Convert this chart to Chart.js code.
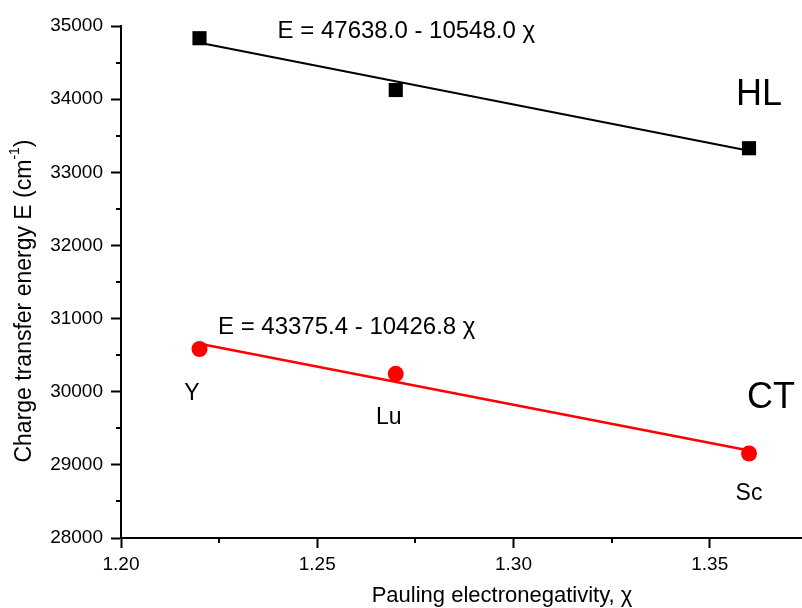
<!DOCTYPE html>
<html lang="en">
<head>
  <meta charset="UTF-8" />
  <title>Charge transfer energy vs electronegativity</title>
  <script src="https://cdn.jsdelivr.net/npm/chart.js"></script>
  <style>
    html, body { margin: 0; padding: 0; background: #fff; overflow: hidden; }
    .chart-container { position: relative; width: 802px; height: 608px; }
    canvas { display: block; }
  </style>
</head>
<body>
  <div class="chart-container">
    <canvas id="chart"></canvas>
  </div>

  <script>
    // data
    const elements = ['Y', 'Lu', 'Sc'];
    const chi = [1.22, 1.27, 1.36];
    const hlEnergy = [34833, 34125, 33329];
    const ctEnergy = [30584, 30245, 29155];

    // fitted lines (end points)
    const fitChi = [1.22, 1.36];
    const hlFit = [34770, 33293];
    const ctFit = [30655, 29195];

    const xTicks = [1.20, 1.25, 1.30, 1.35];
    const xMinorTicks = [1.225, 1.275, 1.325];
    const yTicks = [28000, 29000, 30000, 31000, 32000, 33000, 34000, 35000];
    const yMinorTicks = [28500, 29500, 30500, 31500, 32500, 33500, 34500];

    const hlEquation = 'E = 47638.0 - 10548.0 \u03c7';
    const ctEquation = 'E = 43375.4 - 10426.8 \u03c7';

    const FONT = '"Liberation Sans", Arial, sans-serif';

    const toPoints = (xs, ys) => xs.map((x, i) => ({ x: x, y: ys[i] }));

    // text placed in data units: [text, chi, energy, size, align]
    const notes = [
      [hlEquation, 1.2399, 34932, 24, 'left'],
      ['HL', 1.3567, 34057, 36, 'left'],
      [ctEquation, 1.2247, 30885, 24, 'left'],
      ['CT', 1.3595, 29914, 36, 'left'],
      [elements[0], 1.2181, 29968, 23, 'center'],
      [elements[1], 1.2682, 29640, 23, 'center'],
      [elements[2], 1.3600, 28601, 23, 'center']
    ];

    const decorations = {
      id: 'decorations',
      afterDraw(chart) {
        const ctx = chart.ctx;
        const xs = chart.scales.x, ys = chart.scales.y;
        const area = chart.chartArea;
        ctx.save();
        // minor ticks
        ctx.strokeStyle = '#000';
        ctx.lineWidth = 2;
        ctx.beginPath();
        xMinorTicks.forEach(v => {
          const px = Math.round(xs.getPixelForValue(v));
          ctx.moveTo(px, area.bottom);
          ctx.lineTo(px, area.bottom + 5);
        });
        yMinorTicks.forEach(v => {
          const py = Math.round(ys.getPixelForValue(v));
          ctx.moveTo(area.left, py);
          ctx.lineTo(area.left - 5, py);
        });
        ctx.stroke();

        // annotations
        ctx.fillStyle = '#000';
        ctx.textBaseline = 'middle';
        notes.forEach(([text, x, y, size, align]) => {
          ctx.font = size + 'px ' + FONT;
          ctx.textAlign = align;
          ctx.fillText(text, xs.getPixelForValue(x), ys.getPixelForValue(y));
        });

        // x axis title
        ctx.font = '22px ' + FONT;
        ctx.textAlign = 'center';
        ctx.fillText('Pauling electronegativity, \u03c7', 502, 596);

        // y axis title with superscript
        ctx.translate(25, 301);
        ctx.rotate(-Math.PI / 2);
        const main = 'Charge transfer energy E (cm';
        const sup = '-1';
        const close = ')';
        ctx.font = '23px ' + FONT;
        const wMain = ctx.measureText(main).width;
        const wClose = ctx.measureText(close).width;
        ctx.font = '14px ' + FONT;
        const wSup = ctx.measureText(sup).width;
        let x0 = -(wMain + wSup + wClose) / 2;
        ctx.textAlign = 'left';
        ctx.font = '23px ' + FONT;
        ctx.fillText(main, x0, 0);
        ctx.font = '14px ' + FONT;
        ctx.fillText(sup, x0 + wMain, -10);
        ctx.font = '23px ' + FONT;
        ctx.fillText(close, x0 + wMain + wSup, 0);
        ctx.restore();
      }
    };

    const ctx = document.getElementById('chart').getContext('2d');

    new Chart(ctx, {
      type: 'scatter',
      data: {
        datasets: [
          {
            label: 'HL fit',
            data: toPoints(fitChi, hlFit),
            showLine: true,
            borderColor: '#000',
            borderWidth: 2,
            pointRadius: 0
          },
          {
            label: 'CT fit',
            data: toPoints(fitChi, ctFit),
            showLine: true,
            borderColor: '#ff0000',
            borderWidth: 2.5,
            pointRadius: 0
          },
          {
            label: 'HL',
            data: toPoints(chi, hlEnergy),
            pointStyle: 'rect',
            pointRadius: 10,
            backgroundColor: '#000',
            borderColor: '#000',
            borderWidth: 0
          },
          {
            label: 'CT',
            data: toPoints(chi, ctEnergy),
            pointStyle: 'circle',
            pointRadius: 8,
            backgroundColor: '#ff0000',
            borderColor: '#ff0000',
            borderWidth: 0
          }
        ]
      },
      options: {
        responsive: true,
        maintainAspectRatio: false,
        animation: false,
        layout: { autoPadding: false, padding: { top: 26, right: 0, left: 0, bottom: 0 } },
        plugins: {
          legend: { display: false },
          tooltip: { enabled: false }
        },
        scales: {
          x: {
            type: 'linear',
            min: 1.20,
            max: 1.3735,
            afterBuildTicks: s => { s.ticks = xTicks.map(v => ({ value: v })); },
            afterFit: s => { s.height = 70; s.paddingLeft = 0; s.paddingRight = 0; },
            grid: {
              drawOnChartArea: false,
              drawTicks: true,
              tickLength: 10,
              tickWidth: 2,
              tickColor: '#000'
            },
            border: { display: true, color: '#000', width: 2 },
            ticks: {
              color: '#000',
              padding: 5,
              font: { family: FONT, size: 19 },
              callback: v => Number(v).toFixed(2)
            }
          },
          y: {
            type: 'linear',
            min: 28000,
            max: 35000,
            afterBuildTicks: s => { s.ticks = yTicks.map(v => ({ value: v })); },
            afterFit: s => { s.width = 121; s.paddingTop = 0; s.paddingBottom = 0; },
            grid: {
              drawOnChartArea: false,
              drawTicks: true,
              tickLength: 10,
              tickWidth: 2,
              tickColor: '#000'
            },
            border: { display: true, color: '#000', width: 2 },
            ticks: {
              color: '#000',
              padding: 8,
              font: { family: FONT, size: 19 },
              callback: v => String(v)
            }
          }
        }
      },
      plugins: [decorations]
    });
  </script>
</body>
</html>
